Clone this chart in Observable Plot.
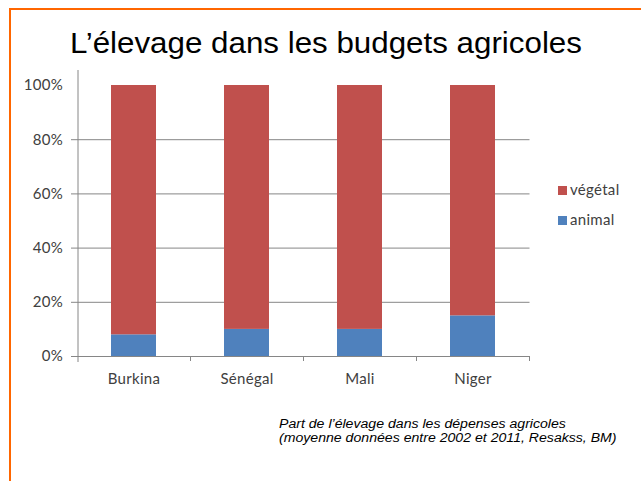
<!DOCTYPE html>
<html>
<head>
<meta charset="utf-8">
<script src="https://cdn.jsdelivr.net/npm/d3@7"></script>
<script src="https://cdn.jsdelivr.net/npm/@observablehq/plot@0.6"></script>
<style>
  html, body { margin: 0; padding: 0; background: #fff; }
  #page { position: relative; width: 641px; height: 481px; overflow: hidden; background: #fff; }
  #page svg { position: absolute; left: 0; top: 0; }
  #border { position: absolute; left: 9px; top: 8px; width: 700px; height: 600px;
            border-top: 2.5px solid #FF6600; border-left: 2.5px solid #FF6600; z-index: 3; }
  #title { position: absolute; left: 70px; top: 27px; font-family: "Liberation Sans", Arial, sans-serif;
           font-size: 29px; white-space: nowrap; color: #000; transform-origin: 0 0; transform: scaleX(1.08); }
  .leg { position: absolute; left: 558px; font-family: Lato, sans-serif; font-size: 15px; color: #404040; white-space: nowrap; letter-spacing: 0.3px; }
  .leg span.sw { display: inline-block; width: 9px; height: 9px; margin-right: 3px; vertical-align: 0px; }
  #caption { position: absolute; left: 279px; top: 418px; font-family: "Liberation Sans", Arial, sans-serif;
             font-style: italic; font-size: 12px; line-height: 13.5px; color: #000; white-space: nowrap;
             transform-origin: 0 0; transform: scaleX(1.175); }
</style>
</head>
<body>
<div id="page">
  <div id="border"></div>
  <div id="title">L’élevage dans les budgets agricoles</div>
  <div id="caption">Part de l’élevage dans les dépenses agricoles<br>(moyenne données entre 2002 et 2011, Resakss, BM)</div>
</div>
<script>
const countries = ["Burkina", "Sénégal", "Mali", "Niger"];
const animal = [0.08, 0.10, 0.10, 0.15];
const vegetal = [0.92, 0.90, 0.90, 0.85];
const seriesNames = ["animal", "végétal"];
const seriesColors = ["#4F81BD", "#C0504D"];
const yTicks = [0, 0.2, 0.4, 0.6, 0.8, 1];
const gridTicks = [0.2, 0.4, 0.6, 0.8];

const rows = [];
countries.forEach((c, i) => {
  rows.push({pays: c, type: "animal", value: animal[i]});
  rows.push({pays: c, type: "végétal", value: vegetal[i]});
});

const W = 641, H = 400;
const marginLeft = 77.5, marginRight = 641 - 529.5, marginTop = 70, marginBottom = H - 361;
const step = (W - marginLeft - marginRight) / countries.length;
const yMin = -5 / 271, yMax = 286 / 271;
const axisColor = "#868686";

const chart = Plot.plot({
  width: W,
  height: H,
  marginLeft, marginRight, marginTop, marginBottom,
  style: {fontFamily: "Lato, sans-serif", fontSize: "15px", color: "#404040", background: "transparent", letterSpacing: "0.3px"},
  x: {domain: countries, paddingInner: 0.6, paddingOuter: 0.3, axis: null, label: null},
  y: {domain: [yMin, yMax], axis: null, label: null},
  color: {domain: seriesNames, range: seriesColors},
  marks: [
    Plot.ruleY(gridTicks, {stroke: axisColor, strokeWidth: 1, insetLeft: -6.5}),
    Plot.barY(rows, {x: "pays", y: "value", fill: "type"}),
    Plot.ruleY([0], {stroke: axisColor, strokeWidth: 1, insetLeft: -6.5}),
    Plot.ruleX(countries, {x: d => d, dx: step / 2, y1: 0, y2: yMin, stroke: axisColor}),
    Plot.frame({anchor: "left", stroke: axisColor}),
    Plot.axisX(countries, {tickSize: 0, tickPadding: 12, anchor: "bottom", label: null, fill: "#404040"}),
    Plot.axisY(yTicks, {tickSize: 0, tickPadding: 15, anchor: "left", label: null, tickFormat: d3.format(".0%"), fill: "#404040"})
  ]
});
const page = document.getElementById("page");
page.insertBefore(chart, page.firstChild);

seriesNames.slice().reverse().forEach((name, k) => {
  const i = seriesNames.indexOf(name);
  const d = document.createElement("div");
  d.className = "leg";
  d.style.top = (180 + k * 30) + "px";
  d.innerHTML = `<span class="sw" style="background:${seriesColors[i]}"></span>${name}`;
  page.appendChild(d);
});
</script>
</body>
</html>
